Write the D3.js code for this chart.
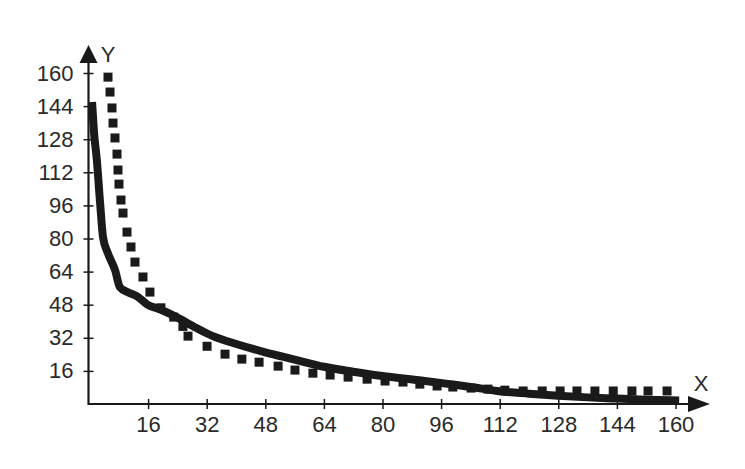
<!DOCTYPE html>
<html>
<head>
<meta charset="utf-8">
<script src="https://cdn.jsdelivr.net/npm/d3@7"></script>
<style>
  body { margin: 0; background: #fff; }
  text { font-family: "Liberation Sans", Arial, sans-serif; fill: #2a2a2a; }
</style>
</head>
<body>
<div id="chart"></div>
<script>
// tick values on both axes
var xTicks = [16, 32, 48, 64, 80, 96, 112, 128, 144, 160];
var yTicks = [16, 32, 48, 64, 80, 96, 112, 128, 144, 160];

// solid curve
var solidX = [0.7, 1.2, 2.0, 2.9, 3.7, 5.0, 7.0, 8.3, 10.5, 13, 15.7, 19.2, 23.9, 28.3, 33.7, 40.3, 48, 56, 64, 72, 80, 90, 98.4, 105, 111.3, 120, 128, 136, 144, 152, 161];
var solidY = [146, 132, 118, 97, 80.5, 73, 64.6, 56.4, 54, 52, 48.2, 45.8, 41.9, 37.6, 32.8, 28.9, 25, 21.5, 18, 15.6, 13.5, 11.5, 9.6, 8, 6.3, 5, 4, 3.2, 2.6, 2.1, 1.7];

// square markers of the dotted curve
var dotX = [5.05, 5.6, 6.14, 6.42, 6.96, 7.51, 7.78, 8.05, 8.6, 9.15, 10.24, 11.33, 12.42, 14.6, 16.5, 19.5, 23.0, 25.5, 26.9, 32.1, 37.0, 41.6, 46.3, 51.5, 56.1, 61.0, 65.7, 70.6, 75.8, 80.7, 85.6, 90.2, 94.9, 99.2, 104.2, 108.8, 113.4, 118.4, 123.6, 128.5, 133.1, 138.0, 143.0, 148.1, 152.5, 157.7];
var dotY = [158, 150.8, 143.1, 135.8, 128.6, 120.8, 113.1, 106.3, 98.6, 92.3, 83.1, 75.9, 68.6, 61.4, 54.1, 46.5, 42.0, 37.5, 32.8, 27.9, 24.1, 21.7, 20.2, 18.3, 16.4, 14.9, 14.0, 13.0, 12.0, 11.1, 10.6, 9.6, 8.7, 8.2, 7.7, 7.2, 6.7, 6.3, 6.3, 6.3, 6.3, 6.3, 6.3, 6.3, 6.3, 6.3];

var width = 745, height = 469;
var svg = d3.select('#chart').append('svg')
    .attr('width', width)
    .attr('height', height);

var x = d3.scaleLinear().domain([0, 160]).range([89.5, 675.5]);
var y = d3.scaleLinear().domain([0, 160]).range([404, 73]);
var ink = '#1a1a1a';

// x axis
var xAxis = svg.append('g')
    .attr('transform', 'translate(0,' + y(0) + ')')
    .call(d3.axisBottom(x).tickValues(xTicks).tickSize(5).tickPadding(7));
xAxis.select('.domain').remove();
xAxis.selectAll('.tick line').attr('y1', -5).attr('stroke', ink).attr('stroke-width', 1.5);
xAxis.selectAll('.tick text').attr('font-size', 22).attr('fill', '#2a2a2a')
    .attr('font-family', '"Liberation Sans", Arial, sans-serif');
xAxis.append('line')
    .attr('x1', x(0) - 1).attr('x2', 690)
    .attr('stroke', ink).attr('stroke-width', 2.2);
xAxis.append('path')
    .attr('d', 'M710,0L688,-8L688,8Z')
    .attr('fill', ink);

// y axis
var yAxis = svg.append('g')
    .attr('transform', 'translate(' + (x(0) - 1) + ',0)')
    .call(d3.axisLeft(y).tickValues(yTicks).tickSize(5).tickPadding(10));
yAxis.select('.domain').remove();
yAxis.selectAll('.tick line').attr('x1', 5).attr('stroke', ink).attr('stroke-width', 1.5);
yAxis.selectAll('.tick text').attr('font-size', 22).attr('fill', '#2a2a2a')
    .attr('font-family', '"Liberation Sans", Arial, sans-serif');
yAxis.append('line')
    .attr('y1', 62).attr('y2', y(0) + 1)
    .attr('stroke', ink).attr('stroke-width', 2.2);
yAxis.append('path')
    .attr('d', 'M0,45L-9,63L9,63Z')
    .attr('fill', ink);

// axis names
svg.append('text').attr('x', 108).attr('y', 62)
    .attr('text-anchor', 'middle').attr('font-size', 22).text('Y');
svg.append('text').attr('x', 701).attr('y', 391)
    .attr('text-anchor', 'middle').attr('font-size', 22).text('X');

// dotted curve as square markers
var dots = dotX.map(function(d, i) { return [d, dotY[i]]; });
svg.append('g').selectAll('rect')
    .data(dots)
    .enter().append('rect')
    .attr('x', function(d) { return x(d[0]) - 4.5; })
    .attr('y', function(d) { return y(d[1]) - 4.5; })
    .attr('width', 9)
    .attr('height', 9)
    .attr('fill', ink);

// solid curve
var solid = solidX.map(function(d, i) { return [d, solidY[i]]; });
var line = d3.line()
    .x(function(d) { return x(d[0]); })
    .y(function(d) { return y(d[1]); })
    .curve(d3.curveMonotoneX);
svg.append('path')
    .datum(solid)
    .attr('d', line)
    .attr('fill', 'none')
    .attr('stroke', ink)
    .attr('stroke-width', 8)
    .attr('stroke-linejoin', 'round');
</script>
</body>
</html>
